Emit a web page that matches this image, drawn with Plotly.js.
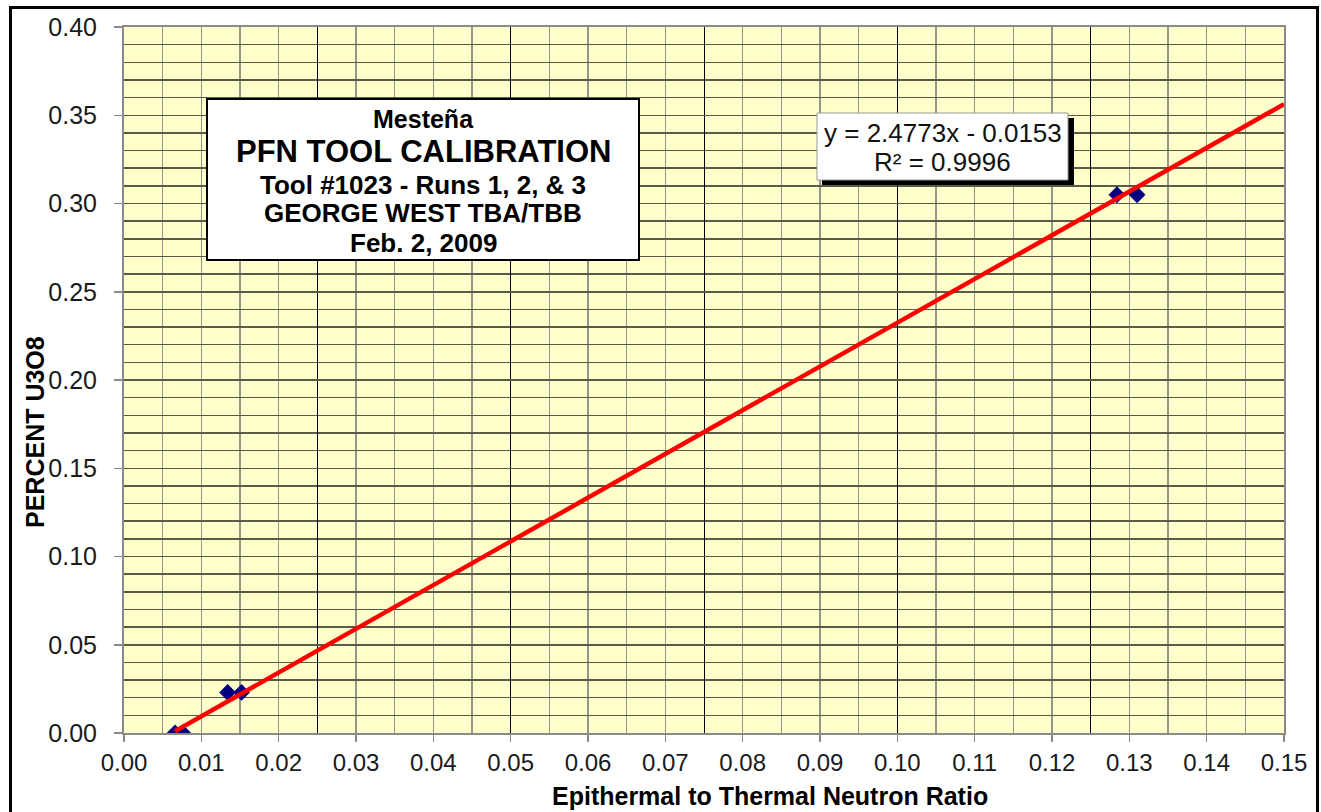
<!DOCTYPE html>
<html>
<head>
<meta charset="utf-8">
<script src="https://cdn.plot.ly/plotly-3.0.1.min.js"></script>
<style>
  html, body { margin: 0; padding: 0; background: #ffffff; }
  #chart { width: 1321px; height: 812px; }
</style>
</head>
<body>
<div id="chart"></div>
<script>
// ---- Data ----
const ratioX = [0.0066, 0.0076, 0.0134, 0.0152, 0.1284, 0.1310];
const percentU3O8 = [0.000, 0.000, 0.023, 0.023, 0.305, 0.305];
const trendSlope = 2.4773;
const trendIntercept = -0.0153;
const trendR2 = 0.9996;
const xRange = [0, 0.15];
const yRange = [0, 0.40];
const infoLines = ["Mesteña", "PFN TOOL CALIBRATION", "Tool #1023 - Runs 1, 2, & 3", "GEORGE WEST TBA/TBB", "Feb. 2, 2009"];
const xTitle = "Epithermal to Thermal Neutron Ratio";
const yTitle = "PERCENT U3O8";

// Trendline (Excel-style linear fit, forward-extended to axis max)
const trendX = [Math.min(...ratioX), xRange[1]];
const trendY = trendX.map(v => trendSlope * v + trendIntercept);
const eqText = "y = " + trendSlope.toFixed(4) + "x " + (trendIntercept < 0 ? "- " : "+ ") + Math.abs(trendIntercept).toFixed(4);
const r2Text = "R² = " + trendR2.toFixed(4);

const FONT = "Liberation Sans, Arial, sans-serif";

const traces = [
  {
    x: ratioX, y: percentU3O8, type: "scatter", mode: "markers",
    marker: { symbol: "diamond", size: 13, color: "#000080" },
    name: "Calibration points", showlegend: false, hoverinfo: "x+y"
  },
  {
    x: trendX, y: trendY, type: "scatter", mode: "lines", xaxis: "x2", yaxis: "y",
    line: { color: "#ff0000", width: 4.5 },
    name: "Linear trend", showlegend: false
  }
];

// pixel-to-paper helpers for decorations (plot area: x 124..1284, y 27..733)
const px = v => (v - 124) / 1160;
const py = v => (733 - v) / 706;

const lineFonts = [
  { size: 25, y: 119 },
  { size: 31, y: 152 },
  { size: 26, y: 185 },
  { size: 26, y: 213 },
  { size: 26, y: 243 }
];

const annotations = [];
infoLines.forEach((t, i) => {
  annotations.push({
    xref: "paper", yref: "paper", x: px(423), y: py(lineFonts[i].y),
    xanchor: "center", yanchor: "middle", showarrow: false,
    text: "<b>" + t + "</b>",
    font: { family: FONT, size: lineFonts[i].size, color: "#000000" }
  });
});
annotations.push({
  xref: "paper", yref: "paper", x: px(942.5), y: py(133),
  xanchor: "center", yanchor: "middle", showarrow: false,
  text: eqText, font: { family: FONT, size: 26, color: "#111111" }
});
annotations.push({
  xref: "paper", yref: "paper", x: px(942.5), y: py(162),
  xanchor: "center", yanchor: "middle", showarrow: false,
  text: r2Text, font: { family: FONT, size: 26, color: "#111111" }
});
annotations.push({
  xref: "paper", yref: "paper", x: px(770), y: py(796),
  xanchor: "center", yanchor: "middle", showarrow: false,
  text: "<b>" + xTitle + "</b>", font: { family: FONT, size: 25, color: "#000000" }
});
annotations.push({
  xref: "paper", yref: "paper", x: px(35), y: py(432),
  xanchor: "center", yanchor: "middle", showarrow: false, textangle: -90,
  text: "<b>" + yTitle + "</b>", font: { family: FONT, size: 25, color: "#000000" }
});

const shapes = [
  // outer chart frame
  { type: "rect", xref: "paper", yref: "paper", x0: px(10.5), x1: px(1317.5), y0: py(830), y1: py(7.5),
    line: { color: "#000000", width: 3 }, fillcolor: "rgba(0,0,0,0)", layer: "above" },
  // info box
  { type: "rect", xref: "paper", yref: "paper", x0: px(207), x1: px(639), y0: py(260), y1: py(99),
    line: { color: "#000000", width: 2 }, fillcolor: "#ffffff", layer: "above" },
  // equation box shadow
  { type: "rect", xref: "paper", yref: "paper", x0: px(822), x1: px(1074), y0: py(185), y1: py(118),
    line: { width: 0 }, fillcolor: "#000000", layer: "above" },
  // equation box
  { type: "rect", xref: "paper", yref: "paper", x0: px(817), x1: px(1068), y0: py(180), y1: py(113),
    line: { color: "#999999", width: 1 }, fillcolor: "#ffffff", layer: "above" }
];

const layout = {
  width: 1321, height: 812,
  margin: { l: 124, r: 37, t: 27, b: 79, pad: 0 },
  paper_bgcolor: "#ffffff",
  plot_bgcolor: "#ffffcc",
  showlegend: false,
  font: { family: FONT, color: "#1a1a1a" },
  // grid axis: black lines every 0.025, grey minor lines every 0.005
  xaxis: {
    range: xRange, dtick: 0.025, tick0: 0,
    showgrid: true, gridcolor: "#000000", gridwidth: 1,
    minor: { dtick: 0.005, tick0: 0, showgrid: true, gridcolor: "#96968a", gridwidth: 1.5 },
    ticks: "", showticklabels: false,
    showline: true, linecolor: "#8a8a8a", linewidth: 2, mirror: true,
    zeroline: false
  },
  // labelled axis: ticks and labels every 0.01
  xaxis2: {
    overlaying: "x", anchor: "y", side: "bottom", range: xRange, dtick: 0.01, tick0: 0,
    tickformat: ".2f", showgrid: false, showline: false, zeroline: false,
    ticks: "outside", ticklen: 8, tickcolor: "#8a8a8a", tickwidth: 1.5,
    ticklabelstandoff: 0,
    tickfont: { family: FONT, size: 24, color: "#1a1a1a" }
  },
  yaxis: {
    range: yRange, dtick: 0.05, tick0: 0, tickformat: ".2f",
    showgrid: true, gridcolor: "#5a5a48", gridwidth: 1.5,
    minor: { dtick: 0.01, showgrid: true, gridcolor: "#5a5a48", gridwidth: 1.5 },
    ticks: "outside", ticklen: 8, tickcolor: "#8a8a8a", tickwidth: 1.5,
    showline: true, linecolor: "#8a8a8a", linewidth: 2, mirror: true,
    zeroline: false, ticklabelstandoff: 12,
    tickfont: { family: FONT, size: 25, color: "#1a1a1a" }
  },
  shapes: shapes,
  annotations: annotations
};

Plotly.newPlot("chart", traces, layout, { staticPlot: true, displayModeBar: false });
</script>
</body>
</html>
